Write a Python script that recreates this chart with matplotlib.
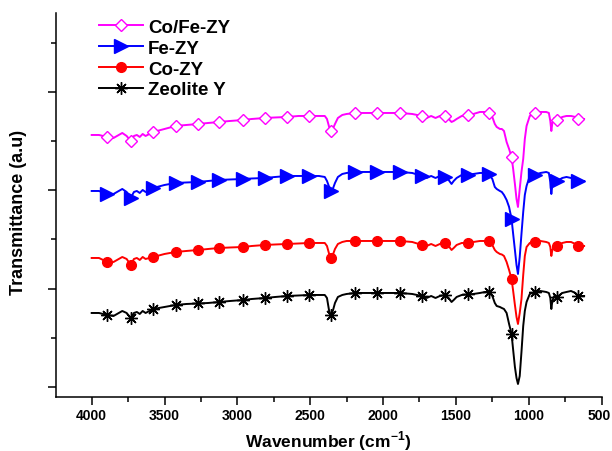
import matplotlib
matplotlib.use('agg')
import matplotlib.pyplot as plt
import matplotlib.transforms as mtransforms
from matplotlib.ticker import MultipleLocator
import numpy as np

# wavenumber grid (cm-1), shared by all spectra
wavenumber = [
    4000, 3950, 3893, 3850, 3790, 3760, 3732, 3710, 3690, 3670,
    3650, 3630, 3577, 3500, 3424, 3350, 3268, 3200, 3124, 3050,
    2960, 2900, 2811, 2740, 2658, 2580, 2507, 2440, 2400, 2385,
    2370, 2358, 2345, 2330, 2310, 2280, 2250, 2191, 2120, 2042,
    1960, 1882, 1800, 1733, 1700, 1670, 1640, 1610, 1573, 1550,
    1530, 1515, 1495, 1460, 1420, 1380, 1335, 1300, 1275, 1250,
    1233, 1220, 1198, 1185, 1170, 1152, 1135, 1118, 1107, 1095,
    1084, 1074, 1062, 1050, 1038, 1027, 1015, 993, 958, 920,
    880, 862, 852, 845, 838, 825, 805, 770, 741, 710,
    680, 661, 620,
]

# transmittance, arbitrary units (curves are stacked)
zeolite_y = [
    84, 84, 82, 81, 86, 84, 79, 84, 85, 83,
    86, 84, 88, 90, 92, 93, 93.5, 94, 95, 96,
    97, 98, 99, 100, 101, 101.5, 102, 102, 102, 99,
    86, 82, 86, 94, 100, 102, 103, 104, 104, 104,
    104, 104, 103, 101, 99, 101, 99, 101, 102, 99,
    95, 97, 100, 102, 102.5, 103, 104, 105, 105, 101,
    94, 91, 90, 89, 88, 84, 73, 63, 47, 30,
    19, 13, 21, 45, 71, 86, 95, 103, 105, 106,
    105, 104, 99, 88, 96, 101, 100, 104, 105, 106,
    104, 101, 101,
]
co_zy = [
    139, 139, 135, 135, 140, 138, 132, 138, 139, 137,
    140, 138, 140, 143, 145, 146, 147, 148, 149, 149.5,
    150, 151, 152, 152.5, 153, 153.5, 154, 154, 154, 151,
    143, 139, 142, 148, 153, 155, 156, 156, 156, 156,
    156, 156, 155, 152, 151, 153, 151, 153, 154, 151,
    147, 149, 152, 154, 154, 155, 156, 156, 156, 152,
    147, 145, 143, 142.5, 141, 135, 127, 118, 106, 92,
    80, 73, 84, 98, 122, 141, 150, 154, 155, 156,
    155, 154, 150, 141, 147, 151, 151, 154, 155, 155,
    153, 151, 151,
]
fe_zy = [
    206, 206, 203, 203, 208, 205, 199, 205, 206, 204,
    207, 205, 209, 212, 214, 214.5, 215, 216, 217, 217.5,
    218, 218.5, 219, 220, 221, 221, 221, 221, 220, 216,
    210, 206, 208, 214, 220, 223, 224, 225, 225, 225,
    225, 225, 224, 221, 219, 221, 219, 221, 220, 217,
    213, 216, 219, 222, 222, 223, 224, 224, 223, 218,
    210, 208, 206, 205, 202, 197, 190, 178, 163, 147,
    132, 123, 140, 163, 185, 202, 211, 221, 222, 224,
    225, 224, 215, 203, 212, 218, 216, 219, 220, 219,
    218, 216, 216,
]
cofe_zy = [
    262, 262, 260, 259, 264, 261, 256, 261, 262, 260,
    263, 261, 265, 268, 271, 272, 273, 274, 275, 276,
    277, 278, 279, 279.5, 280, 281, 281, 281, 281, 278,
    270, 266, 268, 273, 279, 282, 283, 284, 284, 284,
    284, 284, 283, 281, 279, 281, 279, 281, 281, 278,
    275, 276, 278, 281, 282, 283, 285, 285, 284, 280,
    273, 270, 268, 268, 266, 255, 248, 240, 228, 213,
    198, 190, 208, 225, 238, 258, 271, 281, 284, 285,
    285, 284, 276, 266, 274, 279, 277, 280, 281, 281,
    280, 278, 278,
]

# wavenumbers where the symbols sit
marker_at = [3893, 3732, 3577, 3424, 3268, 3124, 2960, 2811, 2658, 2507,
             2358, 2191, 2042, 1882, 1733, 1573, 1420, 1275, 1118, 958,
             805, 661]

plt.rcParams['font.family'] = ['Liberation Sans', 'DejaVu Sans']
plt.rcParams['font.weight'] = 'bold'
plt.rcParams['mathtext.fontset'] = 'custom'
plt.rcParams['mathtext.rm'] = 'Liberation Sans:bold'
plt.rcParams['mathtext.bf'] = 'Liberation Sans:bold'

fig = plt.figure(figsize=(6.12, 4.52), dpi=100)
ax = fig.add_axes([0.091, 0.1195, 0.892, 0.8496])

marks = [wavenumber.index(m) for m in marker_at]

series = [
    ('Zeolite Y', zeolite_y, 'black', dict(marker=(8, 2, 0), ms=9, mew=1.0)),
    ('Co-ZY', co_zy, '#ff0000', dict(marker='o', ms=7)),
    ('Fe-ZY', fe_zy, '#0000ff', dict(marker='>', ms=9.5)),
    ('Co/Fe-ZY', cofe_zy, '#ff00ff', dict(marker='D', ms=6.3, mfc='white', mew=1.0)),
]
handles = {}
for label, vals, color, mk in series:
    line, = ax.plot(wavenumber, vals, color=color, lw=1.4, label=label,
                    markevery=marks, mec=color, **mk)
    handles[label] = line

order = ['Co/Fe-ZY', 'Fe-ZY', 'Co-ZY', 'Zeolite Y']
ax.legend([handles[k] for k in order], order, loc='upper left',
          bbox_to_anchor=(0.079, 0.985), frameon=False, borderpad=0,
          borderaxespad=0, handlelength=2.35, handletextpad=0.27,
          labelspacing=0.2, prop=dict(size=13.5, weight='bold'))

ax.set_xlim(4247, 500)
ax.set_ylim(0, 384)
ax.xaxis.set_major_locator(MultipleLocator(500))
ax.xaxis.set_minor_locator(MultipleLocator(250))
ax.set_yticks(np.arange(10, 384, 98.4))
ax.set_yticks(np.arange(59.2, 384, 98.4), minor=True)
ax.set_yticklabels([])

for side in ['top', 'right']:
    ax.spines[side].set_visible(False)
for side in ['left', 'bottom']:
    ax.spines[side].set_linewidth(1.1)
ax.tick_params(which='major', direction='out', length=5.5, width=1.1,
               labelsize=10, pad=2.4)
ax.tick_params(which='minor', direction='out', length=3.5, width=1.1)

# nudge the last x label so it stays inside the canvas
fig.canvas.draw()
last = [t for t in ax.get_xticklabels() if t.get_text() == '500']
for t in last:
    t.set_transform(t.get_transform() +
                    mtransforms.ScaledTranslation(-2 / 72, 0, fig.dpi_scale_trans))

ax.set_xlabel(r'Wavenumber (cm$^{\mathbf{-1}}$)', fontsize=12.5,
              fontweight='bold', va='baseline')
ax.xaxis.set_label_coords(0.5, -0.128)
ax.set_ylabel('Transmittance (a.u)', fontsize=13, fontweight='bold')
ax.yaxis.set_label_coords(-0.052, 0.482)

fig.savefig('out.png', dpi=100)
